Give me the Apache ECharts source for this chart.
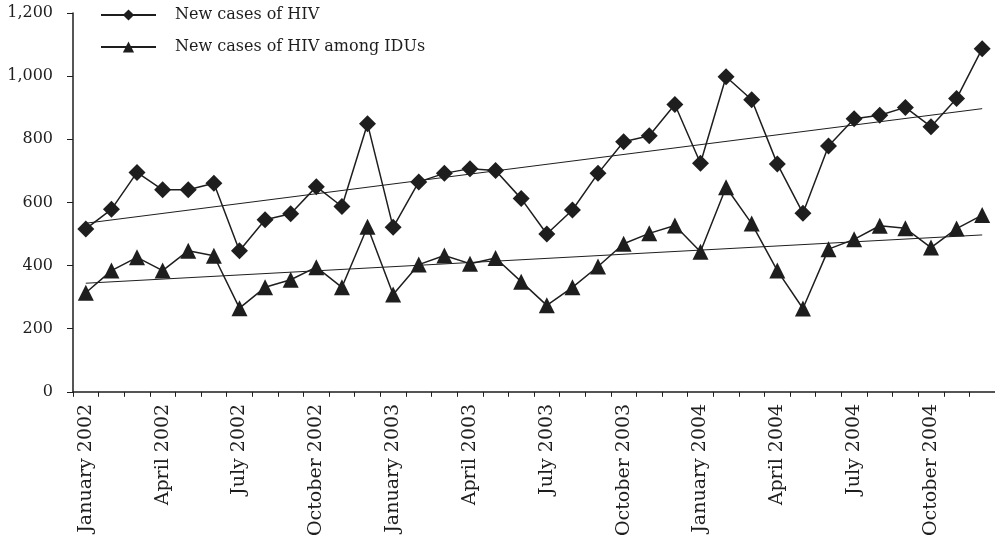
<!DOCTYPE html>
<html><head><meta charset="utf-8">
<script src="https://cdn.jsdelivr.net/npm/echarts@6/dist/echarts.min.js"></script>
<style>html,body{margin:0;padding:0;background:#fff}#c{width:995px;height:539px}</style>
</head><body><div id="c"></div>
<script>
const months = ['January 2002','February 2002','March 2002','April 2002','May 2002','June 2002','July 2002','August 2002','September 2002','October 2002','November 2002','December 2002',
'January 2003','February 2003','March 2003','April 2003','May 2003','June 2003','July 2003','August 2003','September 2003','October 2003','November 2003','December 2003',
'January 2004','February 2004','March 2004','April 2004','May 2004','June 2004','July 2004','August 2004','September 2004','October 2004','November 2004','December 2004'];
const hivCases = [516,578,695,640,640,661,447,545,564,650,587,849,521,665,692,707,701,612,500,576,692,792,811,910,724,998,925,722,566,779,865,876,901,840,929,1087];
const iduCases = [314,384,426,384,447,431,265,331,355,395,331,523,308,403,432,406,424,349,274,331,397,469,502,527,444,648,533,384,264,452,483,526,518,457,517,560];
// trend line end values (first and last month)
const hivTrendEnds = [534, 897];
const iduTrendEnds = [344, 497];
const yTicks = [0,200,400,600,800,1000,1200];

function ends(arr){ return months.map((m,i)=> i===0 ? arr[0] : (i===months.length-1 ? arr[1] : null)); }

const font = 'DejaVu Serif';
const ink = '#1e1e1e';
const chart = echarts.init(document.getElementById('c'));
chart.setOption({
  animation:false,
  backgroundColor:'#fff',
  grid:{left:73,right:0,top:13,bottom:147,containLabel:false},
  legend:{
    data:['New cases of HIV','New cases of HIV among IDUs'],
    orient:'vertical', left:95, top:2, itemWidth:55, itemHeight:14, itemGap:16,
    textStyle:{fontFamily:font,fontSize:16,color:ink,padding:[0,0,0,14]}
  },
  xAxis:{
    type:'category', data:months, boundaryGap:true,
    axisLine:{lineStyle:{color:ink,width:1.5}},
    axisTick:{show:true,interval:0,length:5,lineStyle:{color:ink,width:1}},
    axisLabel:{interval:2,rotate:90,fontFamily:font,fontSize:19,color:ink,margin:12},
    splitLine:{show:false}
  },
  yAxis:{
    type:'value', min:yTicks[0], max:yTicks[yTicks.length-1], interval:200,
    axisLine:{show:true,lineStyle:{color:ink,width:1.5}},
    axisTick:{show:true,length:6,lineStyle:{color:ink,width:1}},
    axisLabel:{fontFamily:font,fontSize:16,color:ink,margin:20,formatter:v=>v.toLocaleString('en-US')},
    splitLine:{show:false}
  },
  series:[
    {name:'New cases of HIV',type:'line',data:hivCases,symbol:'diamond',symbolSize:17,
      lineStyle:{color:ink,width:1.5},itemStyle:{color:ink},z:3},
    {name:'New cases of HIV among IDUs',type:'line',data:iduCases,symbol:'triangle',symbolSize:16,
      lineStyle:{color:ink,width:1.5},itemStyle:{color:ink},z:3},
    {name:'hivTrend',type:'line',data:ends(hivTrendEnds),connectNulls:true,symbol:'none',
      lineStyle:{color:ink,width:1},z:2,silent:true},
    {name:'iduTrend',type:'line',data:ends(iduTrendEnds),connectNulls:true,symbol:'none',
      lineStyle:{color:ink,width:1},z:2,silent:true}
  ]
});
</script></body></html>
